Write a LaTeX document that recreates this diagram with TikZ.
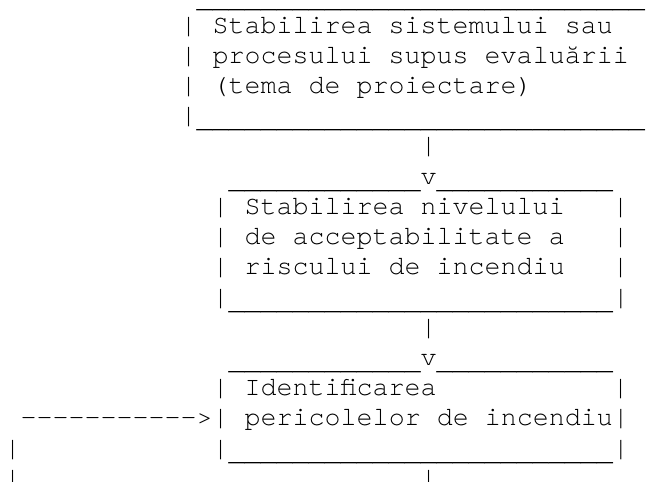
\documentclass[tikz,border=0pt]{standalone}
\usepackage{fontspec}
\newfontfamily\asciimono{texgyrecursor-regular.otf}[Ligatures=TeXOff]
\ExplSyntaxOn
\cs_new:Npn \myrep #1#2 {\prg_replicate:nn{#1}{#2}}
\ExplSyntaxOff
\newcommand\us[1]{\raisebox{-4.1bp}{\myrep{#1}{\_}}}
\tikzset{ascii/.style={anchor=base west,inner sep=0pt,outer sep=0pt,text=black,
  font=\asciimono\fontsize{26.77}{30.3}\selectfont}}
% column c, row r
\newcommand\asc[4]{\node[ascii] (#1) at ({4.7+16*#2},{-3-30.2*#3}) {#4};}
\begin{document}
\begin{tikzpicture}[x=1bp,y=1bp]
\useasboundingbox (0,0) rectangle (646,-482);
\asc{r0}{12}{0}{\us{28}}
\asc{r1}{11}{1}{| Stabilirea sistemului sau}
\asc{r2}{11}{2}{| procesului supus evaluării}
\asc{r3}{11}{3}{| (tema de proiectare)}
\asc{r4}{11}{4}{|\us{28}}
\asc{r5}{26}{5}{|}
\asc{r6}{14}{6}{\us{12}v\us{11}}
\asc{r7a}{13}{7}{| Stabilirea nivelului}
\asc{r7b}{38}{7}{|}
\asc{r8a}{13}{8}{| de acceptabilitate a}
\asc{r8b}{38}{8}{|}
\asc{r9a}{13}{9}{| riscului de incendiu}
\asc{r9b}{38}{9}{|}
\asc{r10}{13}{10}{|\us{24}|}
\asc{r11}{26}{11}{|}
\asc{r12}{14}{12}{\us{12}v\us{11}}
\asc{r13a}{13}{13}{| Identificarea}
\asc{r13b}{38}{13}{|}
\asc{r14}{1}{14}{----------->| pericolelor de incendiu|}
\asc{r15a}{0}{15}{|}
\asc{r15b}{13}{15}{|\us{24}|}
\asc{r16a}{0}{16}{|}
\asc{r16b}{26}{16}{|}
\end{tikzpicture}
\end{document}
